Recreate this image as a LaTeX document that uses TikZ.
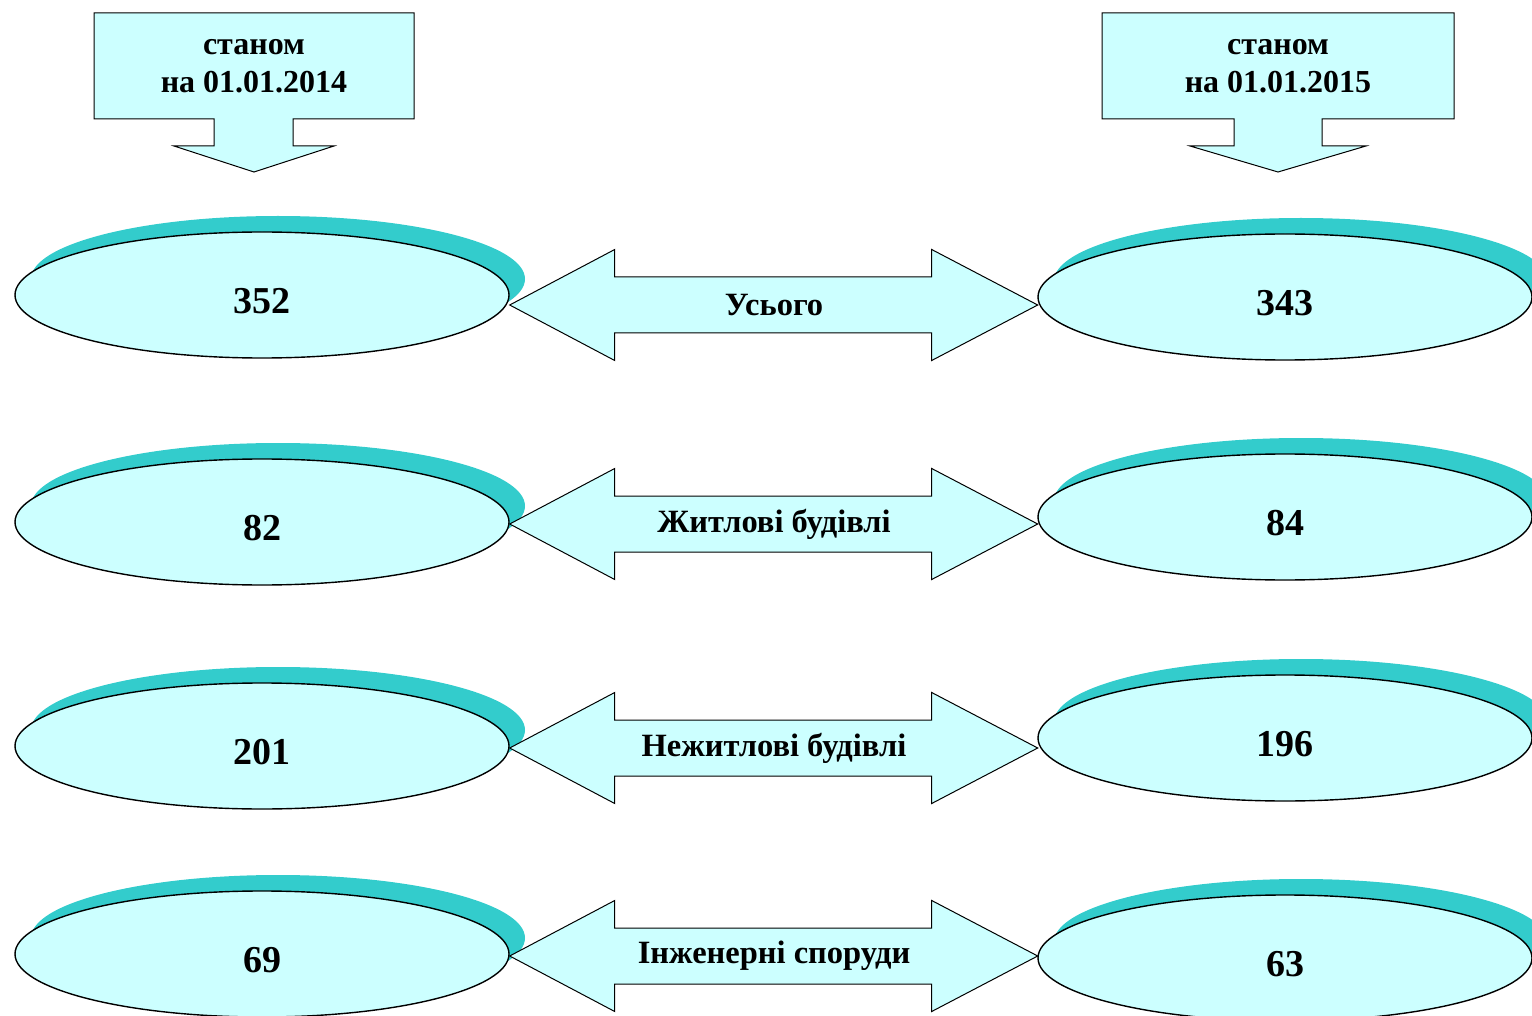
\documentclass[tikz,border=0pt]{standalone}
\usepackage{fontspec}
\setmainfont{Liberation Serif}
\usetikzlibrary{shapes.geometric,shadows}

\definecolor{palecyan}{HTML}{CCFFFF}
\definecolor{shadowteal}{HTML}{33CCCC}

\begin{document}
\begin{tikzpicture}[x=1pt, y=-1pt, line width=1.4pt,
  pale/.style={fill=palecyan, draw=black},
  oval/.style={pale, ellipse, minimum width=494pt, minimum height=126pt, inner sep=0pt,
    font=\fontsize{38}{44}\selectfont\bfseries, text height=37pt,
    drop shadow={shadow xshift=16pt, shadow yshift=16pt, fill=shadowteal, opacity=1}},
  twoway/.style={pale, line width=1pt},
  tag/.style={font=\fontsize{32.5}{36}\selectfont\bfseries},
  datebox/.style={font=\fontsize{32}{38}\selectfont\bfseries, align=center}]

\useasboundingbox ( 0, 0 ) rectangle ( 1532, 1016 );

%% Date callouts
\draw [pale, line width=1pt] ( 94, 13 ) -- ( 414, 13 ) -- ( 414, 119 ) -- ( 293, 119 ) -- ( 293, 146 ) -- ( 334, 146 ) -- ( 254, 172 ) -- ( 174, 146 ) -- ( 214, 146 ) -- ( 214, 119 ) -- ( 94, 119 ) -- cycle;
\node [datebox] (c1) at ( 254, 66 ) {станом\\на 01.01.2014};

\draw [pale, line width=1pt] ( 1102, 13 ) -- ( 1454, 13 ) -- ( 1454, 119 ) -- ( 1322, 119 ) -- ( 1322, 146 ) -- ( 1366, 146 ) -- ( 1278, 172 ) -- ( 1190, 146 ) -- ( 1234, 146 ) -- ( 1234, 119 ) -- ( 1102, 119 ) -- cycle;
\node [datebox] (c2) at ( 1278, 66 ) {станом\\на 01.01.2015};

%% Values 2014
\node [oval] (l1) at ( 262, 295 ) {352};
\node [oval] (l2) at ( 262, 522 ) {82};
\node [oval] (l3) at ( 262, 746 ) {201};
\node [oval] (l4) at ( 262, 954 ) {69};

%% Values 2015
\node [oval] (r1) at ( 1285, 297 ) {343};
\node [oval] (r2) at ( 1285, 517 ) {84};
\node [oval] (r3) at ( 1285, 738 ) {196};
\node [oval] (r4) at ( 1285, 958 ) {63};

%% Double arrows
\coordinate (m1) at ( 774, 305 );
\coordinate (m2) at ( 774, 524 );
\coordinate (m3) at ( 774, 748 );
\coordinate (m4) at ( 774, 956 );

\draw [twoway] (l1.east |- m1) -- ++( 105, -55.5 ) -- ++( 0, 27.5 ) -- ++( 317, 0 ) -- ++( 0, -27.5 ) -- ++( 106, 55.5 ) -- ++( -106, 55.5 ) -- ++( 0, -27.5 ) -- ++( -317, 0 ) -- ++( 0, 27.5 ) -- cycle;
\node [tag] (t1) at (m1) {Усього};

\draw [twoway] (l2.east |- m2) -- ++( 105, -55.5 ) -- ++( 0, 27.5 ) -- ++( 317, 0 ) -- ++( 0, -27.5 ) -- ++( 106, 55.5 ) -- ++( -106, 55.5 ) -- ++( 0, -27.5 ) -- ++( -317, 0 ) -- ++( 0, 27.5 ) -- cycle;
\node [tag] (t2) at (m2) {Житлові будівлі};

\draw [twoway] (l3.east |- m3) -- ++( 105, -55.5 ) -- ++( 0, 27.5 ) -- ++( 317, 0 ) -- ++( 0, -27.5 ) -- ++( 106, 55.5 ) -- ++( -106, 55.5 ) -- ++( 0, -27.5 ) -- ++( -317, 0 ) -- ++( 0, 27.5 ) -- cycle;
\node [tag] (t3) at (m3) {Нежитлові будівлі};

\draw [twoway] (l4.east |- m4) -- ++( 105, -55.5 ) -- ++( 0, 27.5 ) -- ++( 317, 0 ) -- ++( 0, -27.5 ) -- ++( 106, 55.5 ) -- ++( -106, 55.5 ) -- ++( 0, -27.5 ) -- ++( -317, 0 ) -- ++( 0, 27.5 ) -- cycle;
\node [tag] (t4) at (m4) {Інженерні споруди};

\end{tikzpicture}
\end{document}
